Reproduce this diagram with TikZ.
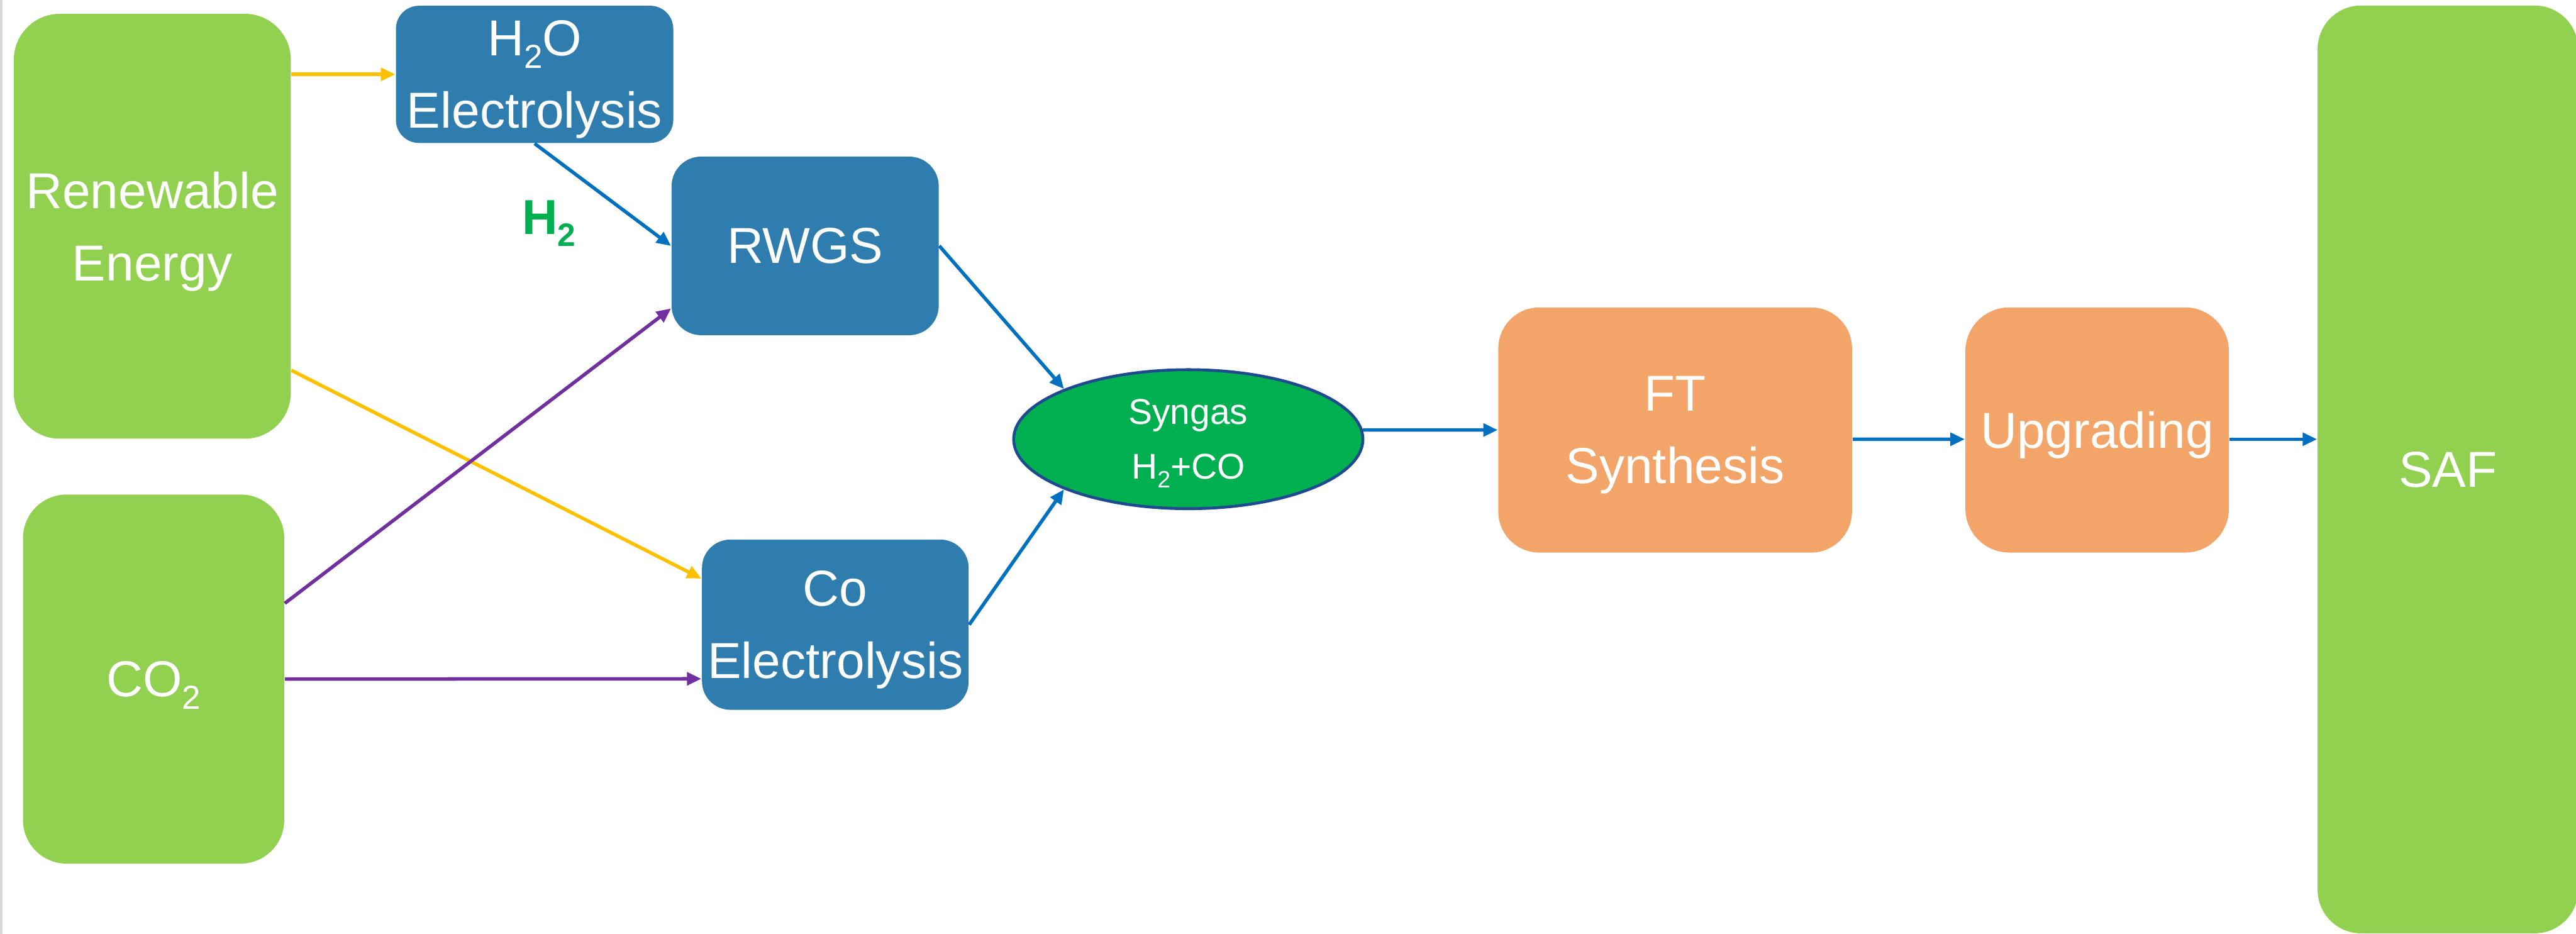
\documentclass[tikz,border=0pt]{standalone}
\usepackage{fontspec}
\setmainfont{Liberation Sans}
\usetikzlibrary{arrows.meta,shapes.geometric}
\definecolor{leaf}{HTML}{92D050}
\definecolor{steel}{HTML}{2F7DAE}
\definecolor{peach}{HTML}{F3A469}
\definecolor{syngreen}{HTML}{00B050}
\definecolor{synedge}{HTML}{1F4A8F}
\definecolor{sun}{HTML}{FFC000}
\definecolor{plum}{HTML}{7030A0}
\definecolor{flow}{HTML}{0070C0}
\definecolor{edgegray}{HTML}{D9D9D9}
\newcommand{\lowsub}[1]{\raisebox{-0.25em}{\scalebox{0.66}{#1}}}
\begin{document}
\begin{tikzpicture}[
  block/.style={rectangle,fill=#1,text=white,align=center,inner sep=0pt,text depth=0pt,
    font=\fontsize{17.5}{25}\selectfont},
  link/.style={draw=#1,line width=1.2pt,-{Triangle[length=5pt,width=4.4pt]}}]
  \useasboundingbox (0,0) rectangle (31.36,-11.366);
  \fill[edgegray] (0,0) rectangle (0.03,-11.366);
  % sources
  \node[block=leaf,minimum width=3.372cm,minimum height=5.172cm,rounded corners=0.56cm] (re) at (1.854,-2.754) {Renewable\\Energy};
  \node[block=leaf,minimum width=3.18cm,minimum height=4.492cm,rounded corners=0.53cm] (co2) at (1.87,-8.266) {CO\lowsub{2}};
  % conversion steps
  \node[block=steel,minimum width=3.376cm,minimum height=1.67cm,rounded corners=0.28cm] (h2o) at (6.508,-0.905) {H\lowsub{2}O\\Electrolysis};
  \node[block=steel,minimum width=3.252cm,minimum height=2.174cm,rounded corners=0.36cm] (rwgs) at (9.802,-2.993) {RWGS};
  \node[block=steel,minimum width=3.246cm,minimum height=2.072cm,rounded corners=0.345cm] (coE) at (10.169,-7.604) {Co\\Electrolysis};
  \node[ellipse,fill=syngreen,draw=synedge,line width=1pt,text=white,align=center,inner sep=0pt,text depth=0pt,
    minimum width=4.252cm,minimum height=1.692cm,font=\fontsize{12.4}{18.9}\selectfont] (syn) at (14.466,-5.346) {Syngas\\H\lowsub{2}+CO};
  \node[block=peach,minimum width=4.306cm,minimum height=2.984cm,rounded corners=0.5cm] (ft) at (20.393,-5.234) {FT\\Synthesis};
  \node[block=peach,minimum width=3.208cm,minimum height=2.984cm,rounded corners=0.535cm] (upg) at (25.53,-5.234) {Upgrading};
  \node[block=leaf,minimum width=3.172cm,minimum height=11.294cm,rounded corners=0.53cm] (saf) at (29.8,-5.714) {SAF};
  \node[text=syngreen,inner sep=0pt,font=\bfseries\fontsize{17}{20}\selectfont] (h2lbl) at (6.68,-2.72) {H\lowsub{2}};
  % flows
  \draw[link=sun] (h2o.west -| re.east) -- (h2o.west);
  \draw[link=sun] (re.-46) -- (coE.161);
  \draw[link=flow] (h2o.south) -- (rwgs.west);
  \draw[link=plum] (co2.30) -- (rwgs.205);
  \draw[link=plum] (co2.east) -- (coE.202);
  \draw[link=flow] (rwgs.east) -- (syn.158);
  \draw[link=flow] (coE.east) -- (syn.202);
  \draw[link=flow] (syn.3) -- (ft.west);
  \draw[link=flow] (ft.-3) -- (upg.184);
  \draw[link=flow] (upg.-4) -- (upg.-4 -| saf.west);
\end{tikzpicture}
\end{document}
